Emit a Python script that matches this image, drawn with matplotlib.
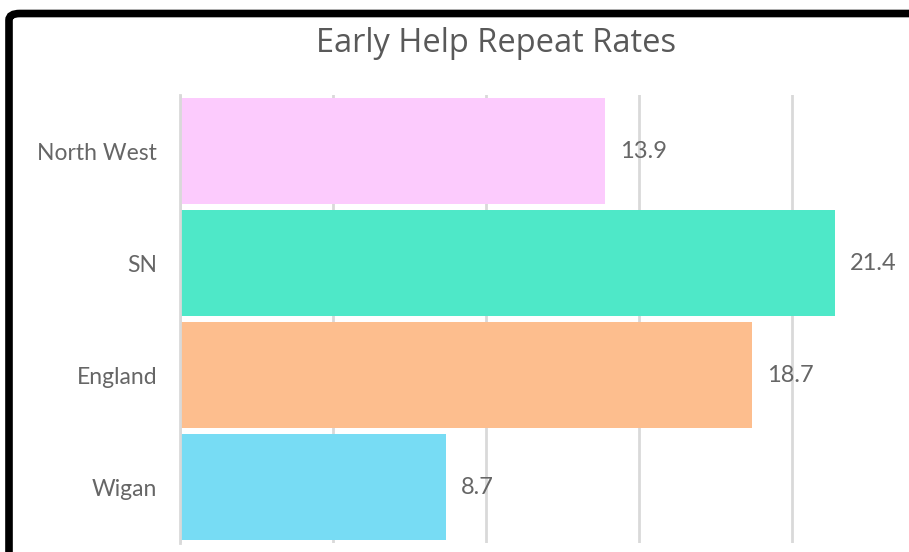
import matplotlib
matplotlib.use("Agg")
import matplotlib.pyplot as plt
from matplotlib.patches import FancyBboxPatch

categories = ["North West", "SN", "England", "Wigan"]
values = [13.9, 21.4, 18.7, 8.7]
colors = ["#FCCBFD", "#4EE8C8", "#FDBE8E", "#77DCF4"]
title = "Early Help Repeat Rates"

W, H = 909, 552
fig = plt.figure(figsize=(W / 100, H / 100), dpi=100)
fig.patch.set_facecolor("white")

# plot area in pixel terms
left, right, top, bottom = 180, 909, 95, 543
ax = fig.add_axes([left / W, 1 - bottom / H, (right - left) / W, (bottom - top) / H])

y = list(range(len(categories)))
ax.barh(y, values, height=0.946, color=colors, zorder=2)
ax.set_ylim(len(categories) - 0.5, -0.5)
ax.set_xlim(0, (right - left) / 30.6)

ax.set_xticks([0, 5, 10, 15, 20])
ax.xaxis.grid(True, color="#D9D9D9", linewidth=2, zorder=0)
ax.tick_params(axis="x", length=0, labelbottom=False)
ax.set_yticks(y)
ax.set_yticklabels(categories, fontsize=16.5, color="#666666", family="Lato")
ax.tick_params(axis="y", length=0, pad=16.5)
for s in ["top", "right", "bottom"]:
    ax.spines[s].set_visible(False)
ax.spines["left"].set_color("#D9D9D9")
ax.spines["left"].set_linewidth(2)

for yi, v in zip(y, values):
    ax.annotate(f"{v}", (v, yi), xytext=(10.5, 0), textcoords="offset points",
                va="center", ha="left", fontsize=17, color="#666666", family="Lato")

fig.text(496 / W, 1 - 43 / H, title, ha="center", va="center",
         fontsize=23.5, color="#595959", family="Open Sans")

# frame around the chart
frame = FancyBboxPatch((9 / W, -0.2), 1.2, 1 - 13.5 / H + 0.2,
                       boxstyle="round,pad=0,rounding_size=0.012",
                       transform=fig.transFigure, fill=False,
                       edgecolor="black", linewidth=5.5, zorder=10)
fig.patches.append(frame)

fig.savefig("out.png", dpi=100)
